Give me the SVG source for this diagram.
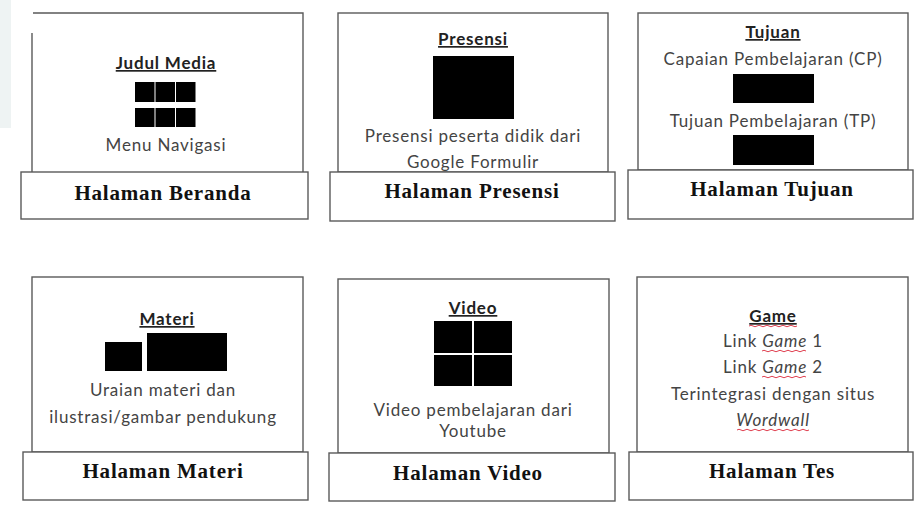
<svg xmlns="http://www.w3.org/2000/svg" width="915" height="507" viewBox="0 0 915 507">
<style>
.frame{fill:none;stroke:#5a5a5a;stroke-width:1.4}
.label{fill:#fff;stroke:#5a5a5a;stroke-width:1.4}
.blk{fill:#000}
.t{font-family:Lato,"Open Sans","Liberation Sans",sans-serif;font-size:17px;letter-spacing:0.8px;fill:#444;text-anchor:middle}
.h{font-family:Lato,"Open Sans","Liberation Sans",sans-serif;font-size:17px;letter-spacing:0.8px;font-weight:bold;fill:#222;text-anchor:middle;text-decoration:underline}
.s{font-family:"Liberation Serif","Times New Roman",serif;font-size:21px;letter-spacing:0.8px;font-weight:bold;fill:#111;text-anchor:middle}
.sq{fill:none;stroke:#e04050;stroke-width:1}
</style>
<rect x="0" y="0" width="915" height="507" fill="#fff"/>
<rect x="0" y="0" width="11" height="128" fill="#eef3f3"/>

<g id="beranda">
<path class="frame" d="M32,172 V33 M33,13 H303 V172"/>
<text class="h" x="166" y="69">Judul Media</text>
<rect class="blk" x="135" y="82" width="19.5" height="20"/>
<rect class="blk" x="155.5" y="82" width="19.5" height="20"/>
<rect class="blk" x="176" y="82" width="19.5" height="20"/>
<rect class="blk" x="135" y="108" width="19.5" height="19"/>
<rect class="blk" x="155.5" y="108" width="19.5" height="19"/>
<rect class="blk" x="176" y="108" width="19.5" height="19"/>
<text class="t" x="166" y="151">Menu Navigasi</text>
<rect class="label" x="21" y="172" width="287" height="47"/>
<text class="s" x="163" y="200">Halaman Beranda</text>
</g>

<g id="presensi">
<rect class="frame" x="338" y="13" width="270" height="159"/>
<text class="h" x="473" y="45">Presensi</text>
<rect class="blk" x="433" y="56" width="81" height="63"/>
<text class="t" x="473" y="142">Presensi peserta didik dari</text>
<text class="t" x="473" y="168">Google Formulir</text>
<rect class="label" x="330" y="172" width="285" height="49"/>
<text class="s" x="472" y="198">Halaman Presensi</text>
</g>

<g id="tujuan">
<rect class="frame" x="638" y="13" width="270" height="157"/>
<text class="h" x="773" y="38">Tujuan</text>
<text class="t" x="773" y="65">Capaian Pembelajaran (CP)</text>
<rect class="blk" x="733" y="74" width="81" height="29"/>
<text class="t" x="773" y="127">Tujuan Pembelajaran (TP)</text>
<rect class="blk" x="733" y="135" width="81" height="30"/>
<rect class="label" x="628" y="170" width="285" height="49"/>
<text class="s" x="772" y="196">Halaman Tujuan</text>
</g>

<g id="materi">
<rect class="frame" x="32" y="277" width="271" height="175"/>
<text class="h" x="167" y="325">Materi</text>
<rect class="blk" x="105" y="342" width="37" height="29"/>
<rect class="blk" x="147" y="333" width="80" height="38"/>
<text class="t" x="163" y="396">Uraian materi dan</text>
<text class="t" x="163" y="423">ilustrasi/gambar pendukung</text>
<rect class="label" x="23" y="452" width="285" height="48"/>
<text class="s" x="163" y="478">Halaman Materi</text>
</g>

<g id="video">
<rect class="frame" x="338" y="279" width="271" height="174"/>
<text class="h" x="473" y="314">Video</text>
<rect class="blk" x="434" y="321" width="38" height="32"/>
<rect class="blk" x="474" y="321" width="38" height="32"/>
<rect class="blk" x="434" y="355" width="38" height="31"/>
<rect class="blk" x="474" y="355" width="38" height="31"/>
<text class="t" x="473" y="416">Video pembelajaran dari</text>
<text class="t" x="473" y="437">Youtube</text>
<rect class="label" x="329" y="453" width="286" height="48"/>
<text class="s" x="468" y="480">Halaman Video</text>
</g>

<g id="tes">
<rect class="frame" x="637" y="277" width="271" height="175"/>
<text class="h" x="773" y="322">Game</text>
<path class="sq" d="M749,326 q2,-1.5 4,0 t4,0 t4,0 t4,0 t4,0 t4,0 t4,0 t4,0 t4,0 t4,0 t4,0 t4,0"/>
<text class="t" x="773" y="347">Link <tspan font-style="italic">Game</tspan> 1</text>
<path class="sq" d="M762,351 q2,-1.5 4,0 t4,0 t4,0 t4,0 t4,0 t4,0 t4,0 t4,0 t4,0 t4,0 t4,0"/>
<text class="t" x="773" y="373">Link <tspan font-style="italic">Game</tspan> 2</text>
<path class="sq" d="M762,377 q2,-1.5 4,0 t4,0 t4,0 t4,0 t4,0 t4,0 t4,0 t4,0 t4,0 t4,0 t4,0"/>
<text class="t" x="773" y="400">Terintegrasi dengan situs</text>
<text class="t" x="773" y="426" font-style="italic">Wordwall</text>
<path class="sq" d="M737,430 q2,-1.5 4,0 t4,0 t4,0 t4,0 t4,0 t4,0 t4,0 t4,0 t4,0 t4,0 t4,0 t4,0 t4,0 t4,0 t4,0 t4,0 t4,0 t4,0"/>
<rect class="label" x="629" y="452" width="284" height="48"/>
<text class="s" x="772" y="478">Halaman Tes</text>
</g>

<g id="connectors"></g>
</svg>
